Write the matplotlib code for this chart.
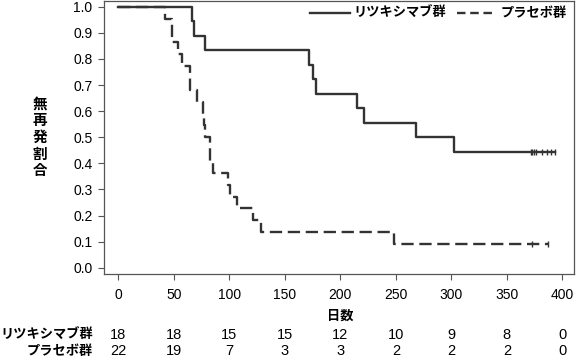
import matplotlib
matplotlib.use("Agg")
import matplotlib.pyplot as plt
import matplotlib.transforms as mtransforms
from matplotlib.lines import Line2D

plt.rcParams['font.family'] = ['Liberation Sans Narrow', 'Liberation Sans', 'Noto Sans CJK JP']

# event days (each entry = one event) and censor days
ritux_events = [66.4, 68.2, 78.1, 171.8, 175.4, 178.1, 215, 221.4, 268, 302]
ritux_censor = [371.5, 373, 374.5, 376, 381.5, 386, 390, 393]
placebo_events = [42.3, 48.1, 48.1, 54, 57, 64.6, 64.6, 70.6, 76.5, 77.5, 78.5,
                  82.6, 82.6, 85.6, 99, 101, 106.6, 121.6, 128.6, 248]
placebo_censor = [373, 387.5]

group_names = ['リツキシマブ群', 'プラセボ群']
risk_days = [0, 50, 100, 150, 200, 250, 300, 350, 400]
risk_ritux = [18, 18, 15, 15, 12, 10, 9, 8, 0]
risk_placebo = [22, 19, 7, 3, 3, 2, 2, 2, 0]
yticks = [0.0, 0.1, 0.2, 0.3, 0.4, 0.5, 0.6, 0.7, 0.8, 0.9, 1.0]


def km_steps(events, censor):
    times = sorted(set(events))
    allt = sorted(events + censor)
    xs, ys = [0], [1.0]
    s = 1.0
    for t in times:
        at_risk = sum(1 for a in allt if a >= t)
        s = s * (1 - events.count(t) / at_risk)
        xs.append(t)
        ys.append(s)
    xs.append(max(censor))
    ys.append(s)
    return xs, ys, s


col = '#333333'
jp = ['Noto Sans CJK JP']
fig = plt.figure(figsize=(5.77, 3.59), dpi=100)
ax = fig.add_axes([0.1808, 0.2359, 0.8140, 0.7627])

x1, y1, s1 = km_steps(ritux_events, ritux_censor)
x2, y2, s2 = km_steps(placebo_events, placebo_censor)
ax.step(x1, y1, where='post', color=col, lw=1.7)
ax.plot(ritux_censor, [s1] * len(ritux_censor), ls='none', marker='|',
        ms=5, mew=1.0, color=col)
ax.step(x2, y2, where='post', color=col, lw=1.7, dashes=(5.2, 2.4))
ax.plot(placebo_censor, [s2] * len(placebo_censor), ls='none', marker='|',
        ms=5, mew=1.0, color=col)

ax.set_xlim(-12.6, 410.5)
ax.set_ylim(-0.025, 1.024)
ax.set_xticks(risk_days)
ax.set_yticks(yticks)
ax.set_yticklabels([f'{v:.1f}' for v in yticks])
ax.tick_params(direction='out', length=4, width=0.8, color='#555555',
               labelsize=10, colors='black')
ax.tick_params(axis='x', pad=5.5)
ax.tick_params(axis='y', pad=4.5)
for sp in ax.spines.values():
    sp.set_color('#555555')
    sp.set_linewidth(0.9)

handles = [Line2D([], [], color=col, lw=1.7),
           Line2D([], [], color=col, lw=1.7, dashes=(3.6, 2.0))]
ax.legend(handles, group_names, loc='center right', bbox_to_anchor=(0.982, 0.963),
          bbox_transform=fig.transFigure, ncol=2, frameon=False,
          handlelength=3.0, handletextpad=0.3, columnspacing=0.8,
          borderpad=0, borderaxespad=0,
          prop={'family': jp, 'size': 9.5, 'weight': 'bold'})

# y label, stacked characters
fig.text(40 / 577, 1 - 137 / 359, '\n'.join('無再発割合'), ha='center', va='center',
         family=jp, fontsize=10.5, weight='bold', linespacing=1.05)

# x label and number-at-risk table
trans = mtransforms.blended_transform_factory(ax.transData, fig.transFigure)
ax.text(200, 1 - 316 / 359, '日数', transform=trans, ha='center', va='center',
        family=jp, fontsize=9.5, weight='bold')
rows = [(group_names[0], risk_ritux, 1 - 335 / 359),
        (group_names[1], risk_placebo, 1 - 351 / 359)]
for name, vals, yy in rows:
    fig.text(93 / 577, yy, name, ha='right', va='center',
             family=jp, fontsize=9.5, weight='bold')
    for d, v in zip(risk_days, vals):
        ax.text(d, yy, str(v), transform=trans, ha='center', va='center',
                fontsize=10.5)

fig.savefig('out.png', dpi=100)
